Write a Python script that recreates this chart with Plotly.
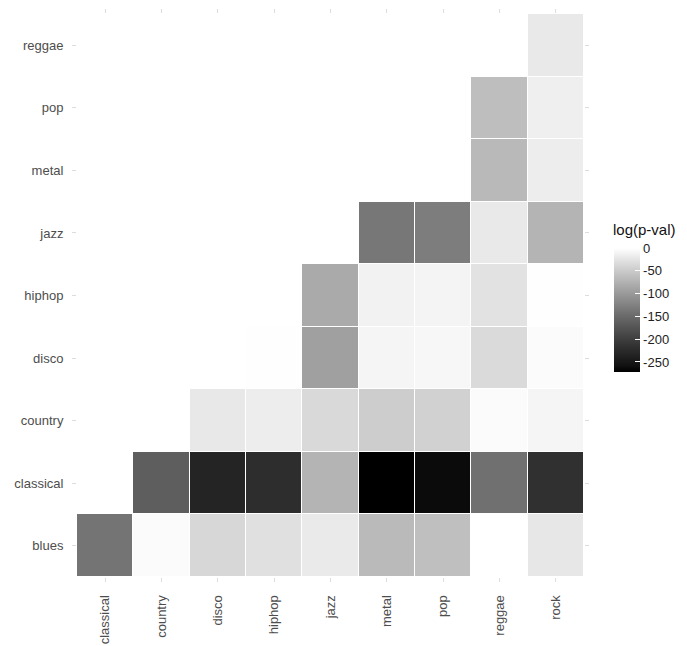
import plotly.graph_objects as go

genres_x = ["classical", "country", "disco", "hiphop", "jazz", "metal", "pop", "reggae", "rock"]
genres_y = ["blues", "classical", "country", "disco", "hiphop", "jazz", "metal", "pop", "reggae"]

N = None
row_blues     = [-139, -4, -38, -29, -20, -67, -62, N, -23]
row_classical = [N, -163, -234, -222, -73, -272, -263, -143, -218]
row_country   = [N, N, -22, -17, -36, -48, -44, -4, -10]
row_disco     = [N, N, N, -0.5, -93, -10, -8, -35, -4]
row_hiphop    = [N, N, N, N, -83, -13, -11, -27, -1]
row_jazz      = [N, N, N, N, N, -136, -130, -21, -73]
row_metal     = [N, N, N, N, N, N, N, -68, -17]
row_pop       = [N, N, N, N, N, N, N, -63, -15]
row_reggae    = [N, N, N, N, N, N, N, N, -21]

z = [row_blues, row_classical, row_country, row_disco, row_hiphop,
     row_jazz, row_metal, row_pop, row_reggae]

cb_ticks = [0, -50, -100, -150, -200, -250]
cb_title = "log(p-val)"
zmin, zmax = -272, 0


def lab_gray(L):
    # CIE L* -> sRGB gray level
    fy = (L + 16) / 116
    Y = fy ** 3 if L > 8 else L / 903.3
    c = 12.92 * Y if Y <= 0.0031308 else 1.055 * Y ** (1 / 2.4) - 0.055
    g = max(0, min(255, round(c * 255)))
    return f"rgb({g},{g},{g})"


nstops = 21
colorscale = [[i / (nstops - 1), lab_gray(100 * i / (nstops - 1))] for i in range(nstops)]

font_family = "Liberation Sans, Arial, Helvetica, sans-serif"

# page offset (body margin) and figure size
OFF = 8
FW, FH = 687 - OFF, 646 - OFF
# plot area in page pixels -> figure pixels
L, R, T, B = 77 - OFF, 584 - OFF, 14 - OFF, 577 - OFF
W, H = R - L, B - T

fig = go.Figure(go.Heatmap(
    z=z, x=genres_x, y=genres_y,
    colorscale=colorscale, zmin=zmin, zmax=zmax,
    xgap=1, ygap=1,
    colorbar=dict(
        tickvals=cb_ticks, ticktext=[str(v) for v in cb_ticks],
        ticks="inside", ticklen=5, tickcolor="white", tickwidth=1,
        tickfont=dict(size=13, color="#222", family=font_family),
        thickness=26, thicknessmode="pixels",
        len=124, lenmode="pixels",
        x=(614 - OFF - L) / W, xanchor="left", xpad=0,
        y=(B - (310 - OFF)) / H, yanchor="middle", ypad=0,
        outlinewidth=0,
    ),
    hovertemplate="%{x} / %{y}: %{z}<extra></extra>",
))

fig.add_annotation(
    text=cb_title, xref="paper", yref="paper",
    x=(611 - OFF - L) / W, y=(B - (229 - OFF)) / H, xanchor="left", yanchor="middle",
    showarrow=False, font=dict(size=15, color="#111", family=font_family),
)

axis_common = dict(
    showgrid=False, zeroline=False, showline=False,
    ticks="outside", ticklen=4, tickcolor="#dddddd", tickwidth=1,
    mirror="ticks", automargin=False,
    tickfont=dict(size=13, color="#4d4d4d", family=font_family),
)

fig.update_xaxes(**axis_common, type="category", categoryorder="array", categoryarray=genres_x,
                 range=[-0.5, 8.5], tickangle=-90, ticklabelstandoff=8)
fig.update_yaxes(**axis_common, type="category", categoryorder="array", categoryarray=genres_y,
                 range=[-0.5, 8.5], ticklabelstandoff=6)

fig.update_layout(
    width=FW, height=FH,
    margin=dict(l=L, r=FW - R, t=T, b=FH - B, autoexpand=False),
    paper_bgcolor="white", plot_bgcolor="white",
    font=dict(family=font_family),
)

fig.write_html("out.html")
